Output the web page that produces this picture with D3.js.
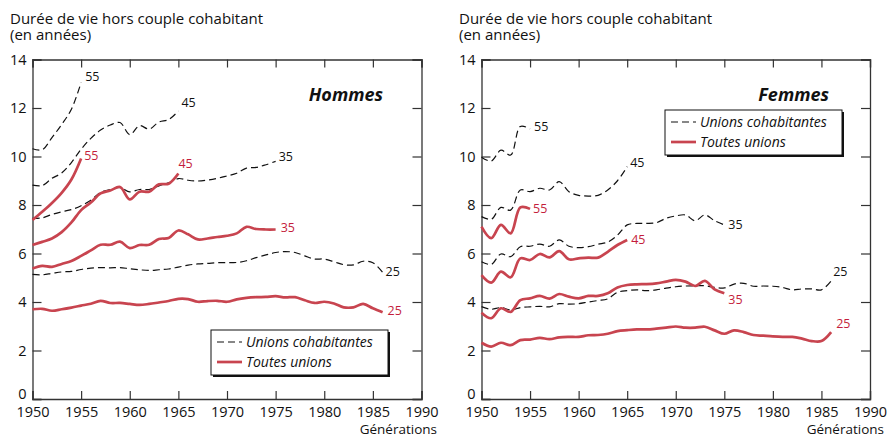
<!DOCTYPE html>
<html>
<head>
<meta charset="utf-8">
<script src="https://cdn.jsdelivr.net/npm/d3@7"></script>
<style>
  body { margin: 0; background: #fff; }
  text { font-family: "Open Sans", "Noto Sans", sans-serif; }
</style>
</head>
<body>
<svg width="888" height="439"></svg>
<script>
// generations (x) and tick values
var firstGen = 1950;
var xTicks = d3.range(1950, 1991, 5);
var yTicks = d3.range(0, 15, 2);
var titleLines = ["Durée de vie hors couple cohabitant", "(en années)"];
var legendLabels = ["Unions cohabitantes", "Toutes unions"];
var ageLabels = ["55", "45", "35", "25"];

// Hommes : unions cohabitantes, by age 55 / 45 / 35 / 25
var hCohab55 = [10.32, 10.28, 10.78, 11.32, 11.95, 13.05];
var hCohab45 = [8.82, 8.80, 9.10, 9.32, 9.75, 10.30, 10.75, 11.09, 11.30, 11.40, 10.90, 11.27, 11.13, 11.42, 11.52, 11.88];
var hCohab35 = [7.45, 7.47, 7.61, 7.72, 7.81, 7.97, 8.20, 8.52, 8.64, 8.72, 8.54, 8.64, 8.64, 8.79, 8.91, 9.09,
                9.02, 8.99, 9.03, 9.10, 9.20, 9.31, 9.52, 9.55, 9.66, 9.80];
var hCohab25 = [5.14, 5.12, 5.18, 5.24, 5.26, 5.34, 5.40, 5.42, 5.41, 5.42, 5.37, 5.33, 5.30, 5.33, 5.36, 5.44,
                5.52, 5.57, 5.59, 5.62, 5.62, 5.63, 5.70, 5.83, 5.94, 6.04, 6.08, 6.04, 5.90, 5.77, 5.77, 5.66,
                5.54, 5.53, 5.68, 5.62, 5.22];
// Hommes : toutes unions
var hToutes55 = [7.38, 7.72, 8.08, 8.50, 9.05, 9.92];
var hToutes45 = [6.35, 6.48, 6.62, 6.88, 7.28, 7.79, 8.10, 8.48, 8.60, 8.74, 8.23, 8.55, 8.55, 8.85, 8.88, 9.30];
var hToutes35 = [5.38, 5.49, 5.45, 5.57, 5.69, 5.90, 6.13, 6.36, 6.36, 6.49, 6.22, 6.35, 6.36, 6.60, 6.64, 6.95,
                 6.79, 6.58, 6.62, 6.68, 6.73, 6.83, 7.10, 7.01, 6.99, 6.99];
var hToutes25 = [3.70, 3.72, 3.64, 3.70, 3.77, 3.85, 3.93, 4.05, 3.96, 3.96, 3.92, 3.88, 3.92, 3.98, 4.04, 4.13,
                 4.12, 4.01, 4.04, 4.05, 4.01, 4.11, 4.17, 4.20, 4.21, 4.24, 4.19, 4.20, 4.07, 3.96, 4.01, 3.94,
                 3.78, 3.78, 3.92, 3.74, 3.58];

// Femmes : unions cohabitantes
var fCohab55 = [9.97, 9.81, 10.26, 10.06, 11.24, 11.14];
var fCohab45 = [7.52, 7.41, 7.90, 7.79, 8.62, 8.55, 8.69, 8.62, 8.96, 8.55, 8.40, 8.37, 8.40, 8.62, 9.00, 9.58];
var fCohab35 = [5.66, 5.55, 5.98, 5.87, 6.28, 6.30, 6.39, 6.30, 6.56, 6.30, 6.24, 6.28, 6.38, 6.47, 6.76, 7.18,
                7.24, 7.24, 7.27, 7.45, 7.55, 7.59, 7.35, 7.59, 7.35, 7.18];
var fCohab25 = [3.81, 3.70, 3.77, 3.67, 3.77, 3.80, 3.82, 3.80, 3.93, 3.91, 3.93, 4.00, 4.06, 4.13, 4.40, 4.47,
                4.50, 4.47, 4.50, 4.57, 4.63, 4.66, 4.67, 4.67, 4.60, 4.58, 4.74, 4.77, 4.65, 4.66, 4.65, 4.60,
                4.50, 4.54, 4.54, 4.50, 4.87];
// Femmes : toutes unions
var fToutes55 = [7.11, 6.63, 7.18, 6.83, 7.90, 7.84];
var fToutes45 = [5.11, 4.80, 5.25, 5.02, 5.80, 5.73, 5.98, 5.84, 6.10, 5.76, 5.80, 5.83, 5.83, 6.07, 6.35, 6.56];
var fToutes35 = [3.56, 3.33, 3.74, 3.59, 4.08, 4.15, 4.25, 4.14, 4.33, 4.22, 4.15, 4.25, 4.25, 4.36, 4.60, 4.70,
                 4.73, 4.74, 4.77, 4.84, 4.91, 4.84, 4.66, 4.87, 4.52, 4.36];
var fToutes25 = [2.32, 2.16, 2.32, 2.22, 2.43, 2.45, 2.52, 2.47, 2.54, 2.56, 2.56, 2.63, 2.64, 2.69, 2.80, 2.84,
                 2.87, 2.87, 2.90, 2.94, 2.99, 2.94, 2.94, 2.98, 2.83, 2.69, 2.83, 2.76, 2.64, 2.61, 2.58, 2.56,
                 2.56, 2.49, 2.39, 2.39, 2.76];

var red = "#c8444f", redText = "#c41d3c", ink = "#111";

var svg = d3.select("svg");

// label offsets [dx, dy] from the end of each curve (order 55,45,35,25)
var panels = [
  { name: "Hommes", left: 32.5, right: 421.5, titleX: 10, nameX: 383, genX: 437,
    legendX: 211, legendY: 330,
    cohab: [hCohab55, hCohab45, hCohab35, hCohab25],
    toutes: [hToutes55, hToutes45, hToutes35, hToutes25],
    cohabOff: [[4, -6], [3, -8], [3, -5], [3, -1]],
    toutesOff: [[3, -3], [0, -10], [5, -2], [5, -2]] },
  { name: "Femmes", left: 481.5, right: 870, titleX: 459, nameX: 829, genX: 884,
    legendX: 665, legendY: 110,
    cohab: [fCohab55, fCohab45, fCohab35, fCohab25],
    toutes: [fToutes55, fToutes45, fToutes35, fToutes25],
    cohabOff: [[4, -2], [3, -4], [4, 0], [2, -9]],
    toutesOff: [[3, 0], [4, 0], [4, 6], [5, -8]] }
];

panels.forEach(drawPanel);

function drawPanel(p) {
  var x = d3.scaleLinear().domain([1950, 1990]).range([p.left, p.right]);
  var y = d3.scaleLinear().domain([0, 14]).range([399, 59.5]);
  var g = svg.append("g");

  g.selectAll(".title")
    .data(titleLines)
    .enter().append("text")
      .attr("x", p.titleX)
      .attr("y", function(d, i) { return 24 + i * 15.5; })
      .style("font-size", "15px")
      .attr("fill", ink)
      .text(function(d) { return d; });

  // axes, ticks pointing inward
  g.append("g").attr("transform", "translate(0," + y(0) + ")")
    .call(d3.axisBottom(x).tickValues(xTicks).tickFormat(d3.format("d")).tickSize(-8).tickPadding(8));
  g.append("g").attr("transform", "translate(0," + y(14) + ")")
    .call(d3.axisTop(x).tickValues(xTicks).tickFormat("").tickSize(-8));
  var left = g.append("g").attr("transform", "translate(" + p.left + ",0)")
    .call(d3.axisLeft(y).tickValues(yTicks).tickSize(-9).tickPadding(6));
  g.append("g").attr("transform", "translate(" + p.right + ",0)")
    .call(d3.axisRight(y).tickValues(yTicks).tickFormat("").tickSize(-9));

  g.selectAll(".domain").attr("stroke", "#333").attr("stroke-width", 1.3);
  g.selectAll(".tick line").attr("stroke", "#333").attr("stroke-width", 1.2);
  g.selectAll(".tick text").attr("fill", ink).style("font-size", "14.5px")
    .style("font-family", "'Open Sans', sans-serif");
  // the "0" sits a little above the corner, clear of the year labels
  left.selectAll(".tick text").filter(function(d) { return d === 0; }).attr("y", -5);

  g.append("text")
    .attr("x", p.genX)
    .attr("y", 434)
    .attr("text-anchor", "end")
    .style("font-size", "13.5px")
    .attr("fill", ink)
    .text("Générations");

  var line = d3.line()
    .x(function(d, i) { return x(firstGen + i); })
    .y(function(d) { return y(d); })
    .curve(d3.curveCatmullRom.alpha(0.5));

  g.selectAll(".cohab")
    .data(p.cohab)
    .enter().append("path")
      .attr("class", "cohab")
      .attr("d", line)
      .attr("fill", "none")
      .attr("stroke", ink)
      .attr("stroke-width", 1.2)
      .attr("stroke-dasharray", "7,4");

  g.selectAll(".toutes")
    .data(p.toutes)
    .enter().append("path")
      .attr("class", "toutes")
      .attr("d", line)
      .attr("fill", "none")
      .attr("stroke", red)
      .attr("stroke-width", 2.7)
      .attr("stroke-linejoin", "round");

  function endLabels(series, off, color) {
    series.forEach(function(s, i) {
      var last = s.length - 1;
      g.append("text")
        .attr("x", x(firstGen + last) + off[i][0])
        .attr("y", y(s[last]) + off[i][1])
        .attr("dy", "0.35em")
        .style("font-size", "12.5px")
        .attr("fill", color)
        .text(ageLabels[i]);
    });
  }
  endLabels(p.cohab, p.cohabOff, ink);
  endLabels(p.toutes, p.toutesOff, redText);

  g.append("text")
    .attr("x", p.nameX)
    .attr("y", 101)
    .attr("text-anchor", "end")
    .style("font-size", "18px")
    .style("font-weight", "bold")
    .style("font-style", "italic")
    .attr("fill", ink)
    .text(p.name);

  // legend box with drop shadow
  var lg = g.append("g").attr("transform", "translate(" + p.legendX + "," + p.legendY + ")");
  lg.append("rect").attr("x", 2).attr("y", 2).attr("width", 177).attr("height", 45).attr("fill", "#111");
  lg.append("rect").attr("x", 0).attr("y", 0).attr("width", 177).attr("height", 45)
    .attr("fill", "#fff").attr("stroke", "#111").attr("stroke-width", 1);
  var items = lg.selectAll(".item")
    .data(legendLabels)
    .enter().append("g")
      .attr("transform", function(d, i) { return "translate(0," + (12 + i * 20) + ")"; });
  items.append("line")
    .attr("x1", 6).attr("x2", 31)
    .attr("stroke", function(d, i) { return i ? red : ink; })
    .attr("stroke-width", function(d, i) { return i ? 2.7 : 1.2; })
    .attr("stroke-dasharray", function(d, i) { return i ? null : "7,4"; });
  items.append("text")
    .attr("x", 35)
    .attr("dy", "0.35em")
    .style("font-size", "14px")
    .style("font-style", "italic")
    .attr("fill", ink)
    .text(function(d) { return d; });
}
</script>
</body>
</html>
